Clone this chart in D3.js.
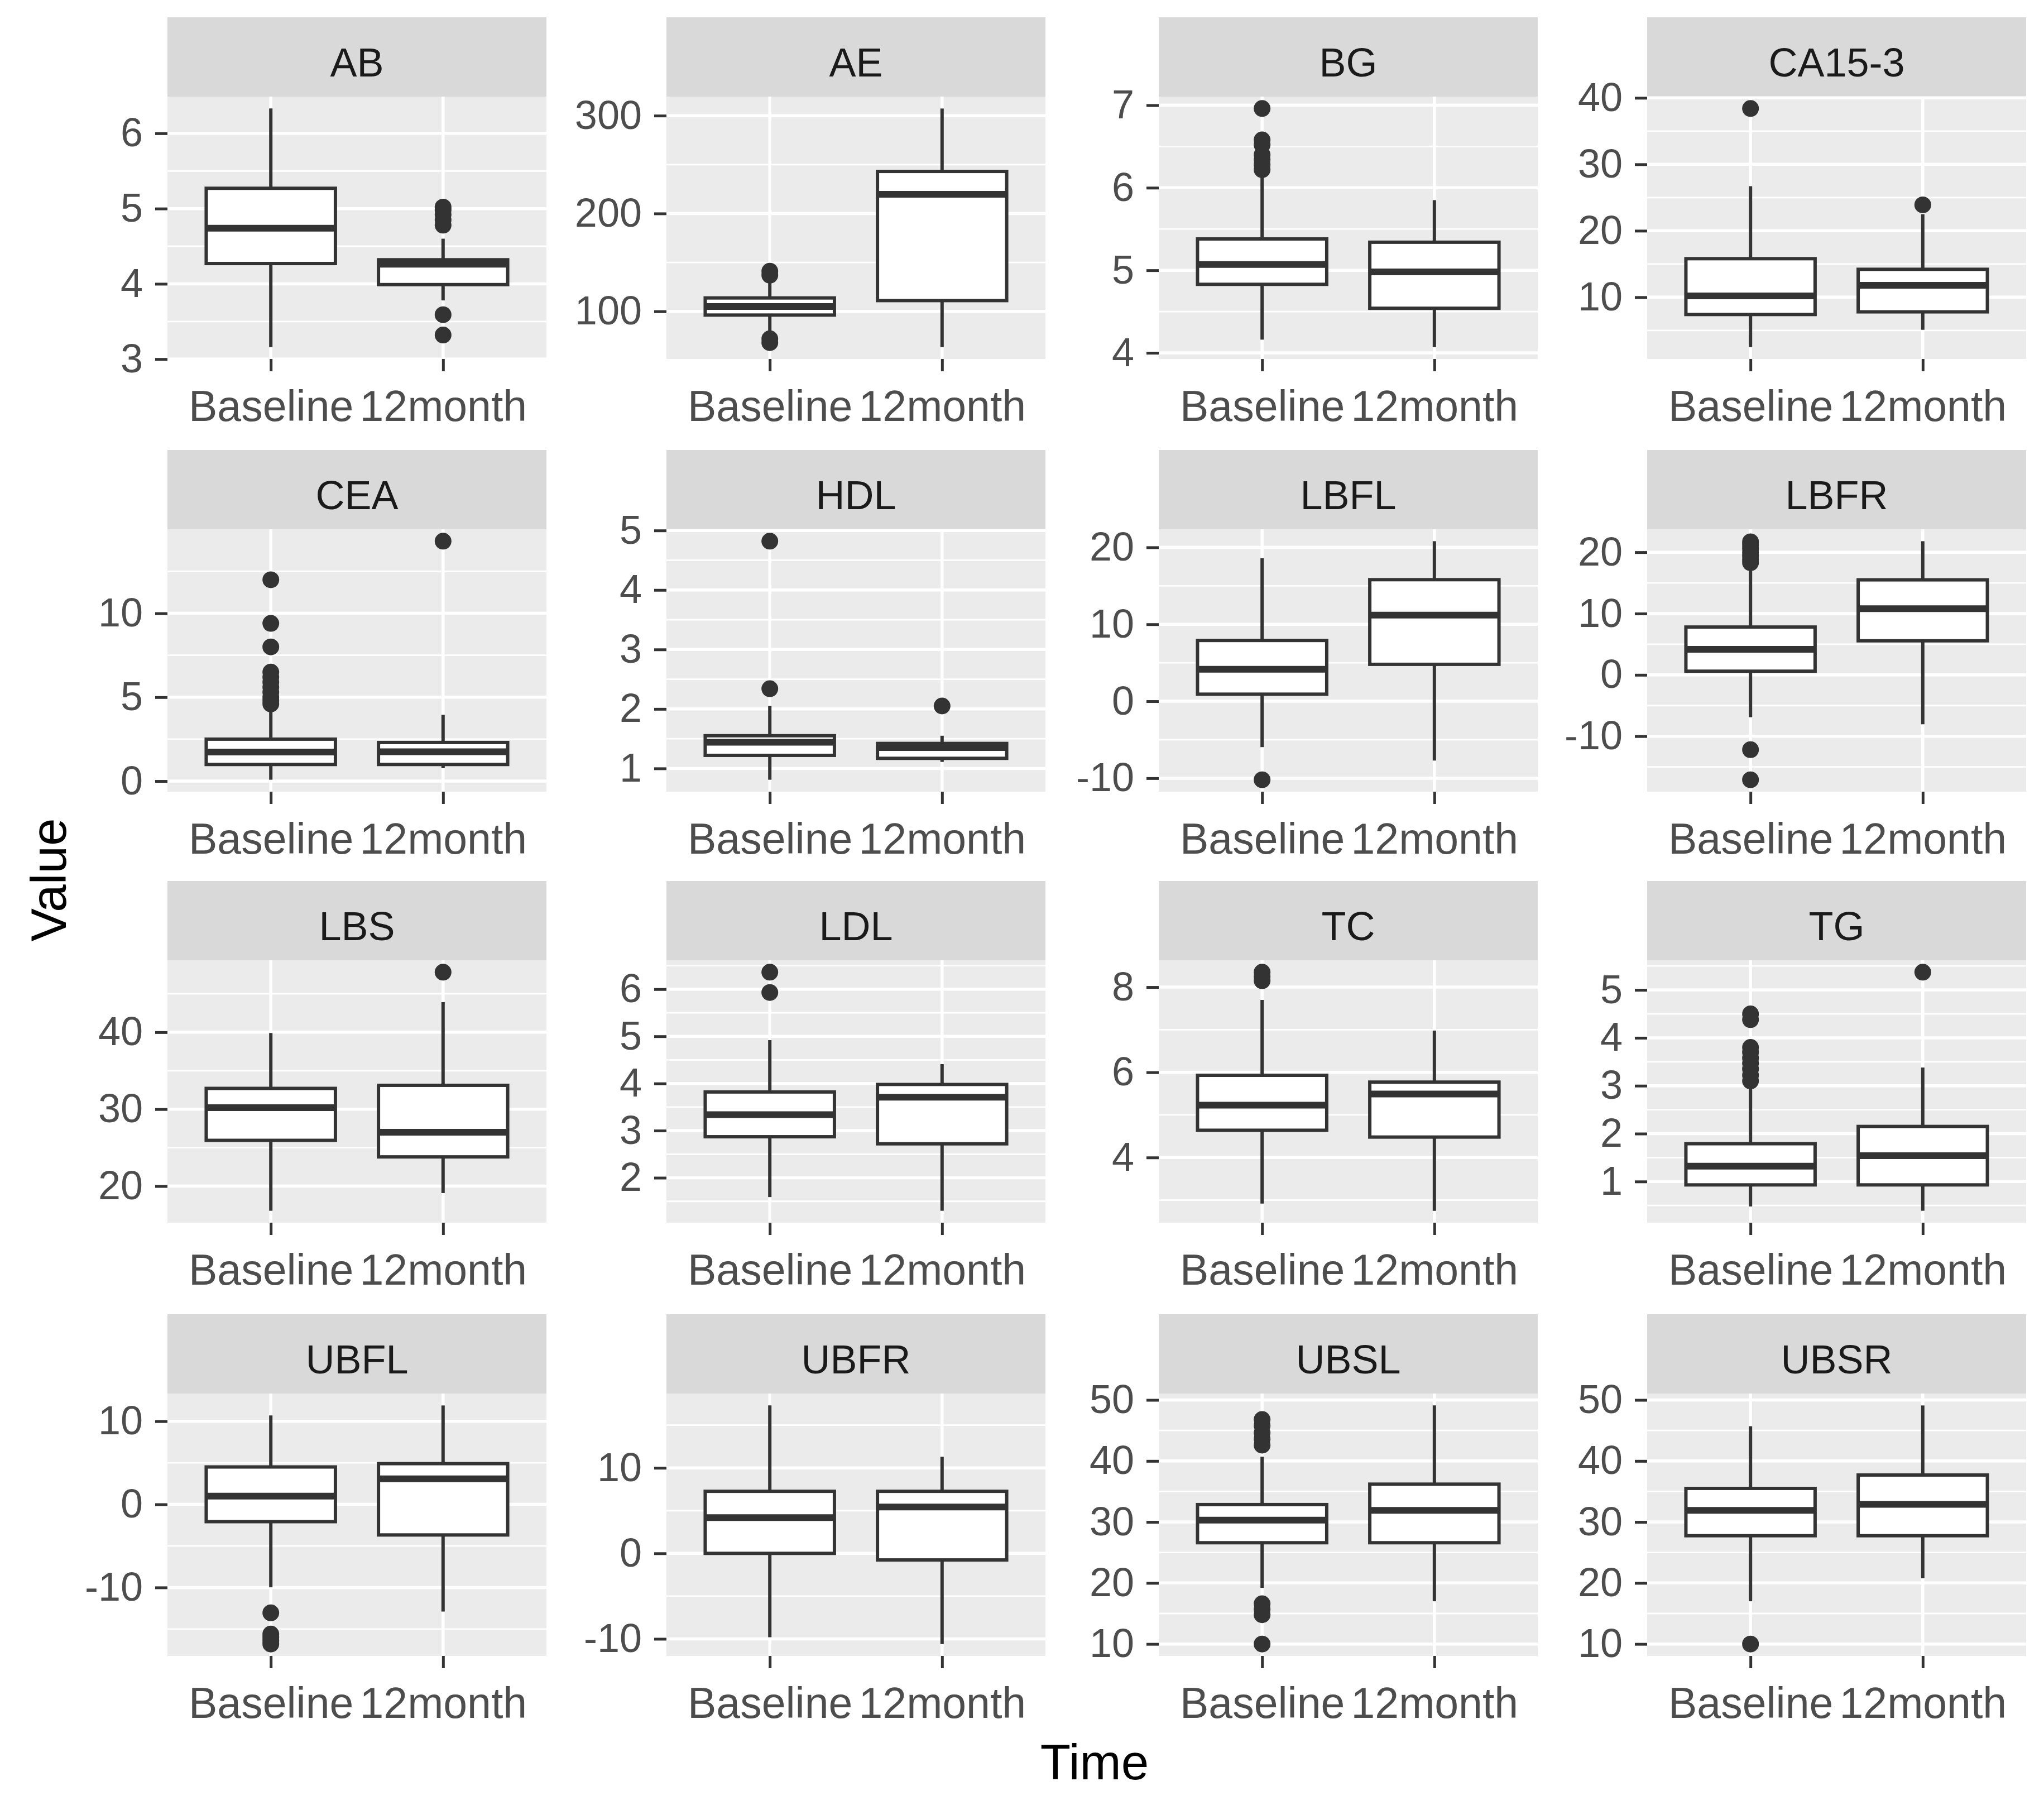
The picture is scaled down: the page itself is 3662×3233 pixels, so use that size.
<!DOCTYPE html>
<html>
<head>
<meta charset="utf-8">
<script src="https://cdn.jsdelivr.net/npm/d3@7"></script>
<style>
  body { margin: 0; background: #fff; }
  svg { display: block; font-family: "Liberation Sans", Arial, sans-serif; }
</style>
</head>
<body>
<svg id="chart" width="3662" height="3233"></svg>
<script>
// Panels (facets) and categories
const panels = ["AB", "AE", "BG", "CA15-3", "CEA", "HDL", "LBFL", "LBFR",
                "LBS", "LDL", "TC", "TG", "UBFL", "UBFR", "UBSL", "UBSR"];
const times = ["Baseline", "12month"];

// Box statistics per panel: [Baseline, 12month]
const whiskerLow = [[3.16, 3.78], [79.6, 63.5], [4.16, 4.07], [2.5, 5.1],
                    [0.08, 0.77], [0.81, 1.11], [-5.96, -7.7], [-6.9, -8.05],
                    [16.8, 19.1], [1.59, 1.30], [2.92, 2.75], [0.48, 0.39],
                    [-9.98, -12.9], [-9.8, -10.6], [19.2, 17.0], [17.0, 20.8]];
const q1 = [[4.27, 3.99], [96.2, 111], [4.83, 4.54], [7.4, 7.8],
            [0.99, 0.99], [1.22, 1.17], [0.92, 4.8], [0.6, 5.56],
            [25.95, 23.8], [2.87, 2.72], [4.64, 4.48], [0.93, 0.93],
            [-2.08, -3.68], [0.0, -0.77], [26.6, 26.6], [27.75, 27.75]];
const median = [[4.74, 4.26], [105, 219.7], [5.07, 4.98], [10.2, 11.8],
                [1.73, 1.75], [1.44, 1.35], [4.16, 11.2], [4.17, 10.8],
                [30.2, 27.0], [3.34, 3.71], [5.23, 5.49], [1.32, 1.54],
                [0.99, 3.07], [4.18, 5.42], [30.3, 31.9], [31.9, 32.9]];
const q3 = [[5.27, 4.32], [113.7, 243], [5.38, 5.34], [15.8, 14.2],
            [2.5, 2.3], [1.55, 1.42], [7.9, 15.8], [7.8, 15.5],
            [32.7, 33.1], [3.82, 3.98], [5.93, 5.77], [1.79, 2.15],
            [4.5, 4.9], [7.26, 7.26], [32.85, 36.2], [35.5, 37.7]];
const whiskerHigh = [[6.33, 4.60], [130.7, 307.3], [6.15, 5.85], [26.7, 22.5],
                     [4.3, 3.95], [2.05, 1.55], [18.6, 20.8], [17.0, 21.8],
                     [39.9, 43.9], [4.92, 4.41], [7.70, 6.98], [2.96, 3.38],
                     [10.7, 11.9], [17.3, 11.3], [40.7, 49.1], [45.7, 49.1]];
const outliers = [
  [[], [5.02, 4.98, 4.92, 4.85, 4.78, 3.59, 3.32]],
  [[141, 137, 72, 68], []],
  [[6.96, 6.58, 6.52, 6.40, 6.34, 6.28, 6.22], []],
  [[38.4], [23.9]],
  [[12.0, 9.4, 8.0, 6.5, 6.2, 5.9, 5.6, 5.3, 5.0, 4.8, 4.6], [14.3]],
  [[4.82, 2.34], [2.05]],
  [[-10.2], []],
  [[21.7, 21.2, 20.6, 20.0, 19.4, 18.8, 18.3, -12.2, -17.1], []],
  [[], [47.8]],
  [[6.36, 5.93], []],
  [[8.35, 8.25, 8.15], []],
  [[4.50, 4.38, 3.80, 3.70, 3.58, 3.47, 3.35, 3.22, 3.10], [5.37]],
  [[-13.05, -15.6, -16.0, -16.4, -16.8], []],
  [[], []],
  [[46.8, 45.8, 44.6, 43.6, 42.6, 16.6, 15.7, 14.8, 10.0], []],
  [[10.0], []]
];

// Y tick labels per panel
const yTicks = [[3, 4, 5, 6], [100, 200, 300], [4, 5, 6, 7], [10, 20, 30, 40],
                [0, 5, 10], [1, 2, 3, 4, 5], [-10, 0, 10, 20], [-10, 0, 10, 20],
                [20, 30, 40], [2, 3, 4, 5, 6], [4, 6, 8], [1, 2, 3, 4, 5],
                [-10, 0, 10], [-10, 0, 10], [10, 20, 30, 40, 50], [10, 20, 30, 40, 50]];

// Layout
const colLeft = [300, 1194, 2076, 2951];
const rowStripTop = [31, 806, 1578, 2354];
const panelW = 679, stripH = 142, panelH = 470;
const ink = "#333333";

const svg = d3.select("#chart");
svg.append("rect").attr("width", 3662).attr("height", 3233).attr("fill", "#fff");

panels.forEach((name, i) => {
    const col = i % 4, row = Math.floor(i / 4);
    const x0 = colLeft[col], sTop = rowStripTop[row], pTop = sTop + stripH;

    // Strip
    svg.append("rect")
        .attr("x", x0).attr("y", sTop)
        .attr("width", panelW).attr("height", stripH)
        .attr("fill", "#D9D9D9");
    svg.append("text")
        .attr("x", x0 + panelW / 2).attr("y", sTop + 106)
        .attr("text-anchor", "middle")
        .style("font-size", "72px")
        .attr("fill", "#1A1A1A")
        .text(name);

    const g = svg.append("g").attr("transform", `translate(${x0},${pTop})`);

    // Scales (ggplot-like: discrete expand 0.6, continuous 5%)
    const x = d3.scalePoint().domain(times).range([0, panelW]).padding(0.6);
    const allVals = [...whiskerLow[i], ...whiskerHigh[i], ...outliers[i][0], ...outliers[i][1]];
    const lo = d3.min(allVals), hi = d3.max(allVals), pad = (hi - lo) * 0.05;
    const y = d3.scaleLinear().domain([lo - pad, hi + pad]).range([panelH, 0]);

    // Panel background
    g.append("rect").attr("width", panelW).attr("height", panelH).attr("fill", "#EBEBEB");

    // Minor grid
    const major = yTicks[i];
    const step = major[1] - major[0];
    const ext = [major[0] - step, ...major, major[major.length - 1] + step];
    const [d0, d1] = y.domain();
    const minor = d3.pairs(ext).map(([a, b]) => (a + b) / 2).filter(v => v >= d0 && v <= d1);
    g.selectAll(".minor").data(minor).enter().append("line")
        .attr("x1", 0).attr("x2", panelW)
        .attr("y1", d => y(d)).attr("y2", d => y(d))
        .attr("stroke", "#fff").attr("stroke-width", 2.8);

    // Major grid
    g.selectAll(".majorY").data(major).enter().append("line")
        .attr("x1", 0).attr("x2", panelW)
        .attr("y1", d => y(d)).attr("y2", d => y(d))
        .attr("stroke", "#fff").attr("stroke-width", 5.5);
    g.selectAll(".majorX").data(times).enter().append("line")
        .attr("x1", d => x(d)).attr("x2", d => x(d))
        .attr("y1", 0).attr("y2", panelH)
        .attr("stroke", "#fff").attr("stroke-width", 5.5);

    // Boxes
    const bw = x.step() * 0.75;
    times.forEach((t, j) => {
        const cx = x(t);
        g.append("line")
            .attr("x1", cx).attr("x2", cx)
            .attr("y1", y(whiskerHigh[i][j])).attr("y2", y(q3[i][j]))
            .attr("stroke", ink).attr("stroke-width", 6);
        g.append("line")
            .attr("x1", cx).attr("x2", cx)
            .attr("y1", y(q1[i][j])).attr("y2", y(whiskerLow[i][j]))
            .attr("stroke", ink).attr("stroke-width", 6);
        g.append("rect")
            .attr("x", cx - bw / 2).attr("y", y(q3[i][j]))
            .attr("width", bw).attr("height", y(q1[i][j]) - y(q3[i][j]))
            .attr("fill", "#fff").attr("stroke", ink).attr("stroke-width", 6);
        g.append("line")
            .attr("x1", cx - bw / 2).attr("x2", cx + bw / 2)
            .attr("y1", y(median[i][j])).attr("y2", y(median[i][j]))
            .attr("stroke", ink).attr("stroke-width", 12);
        g.selectAll(null).data(outliers[i][j]).enter().append("circle")
            .attr("cx", cx).attr("cy", d => y(d)).attr("r", 15)
            .attr("fill", ink);
    });

    // Axes
    const yAxis = g.append("g")
        .call(d3.axisLeft(y).tickValues(major).tickFormat(d => String(d))
            .tickSize(22).tickPadding(22));
    const xAxis = g.append("g")
        .attr("transform", `translate(0,${panelH})`)
        .call(d3.axisBottom(x).tickSize(22).tickPadding(34));
    [yAxis, xAxis].forEach(a => {
        a.select(".domain").remove();
        a.selectAll("line").attr("stroke", ink).attr("stroke-width", 5);
        a.selectAll("text")
            .attr("fill", "#4D4D4D")
            .style("font-size", "72px")
            .style("font-family", "'Liberation Sans', Arial, sans-serif");
    });
    xAxis.selectAll("text").style("font-size", "77px");
});

// Axis titles
svg.append("text")
    .attr("x", 1961).attr("y", 3187)
    .attr("text-anchor", "middle")
    .style("font-size", "89px")
    .attr("fill", "#000")
    .text("Time");
svg.append("text")
    .attr("transform", "translate(118,1576) rotate(-90)")
    .attr("text-anchor", "middle")
    .style("font-size", "89px")
    .attr("fill", "#000")
    .text("Value");
</script>
</body>
</html>
